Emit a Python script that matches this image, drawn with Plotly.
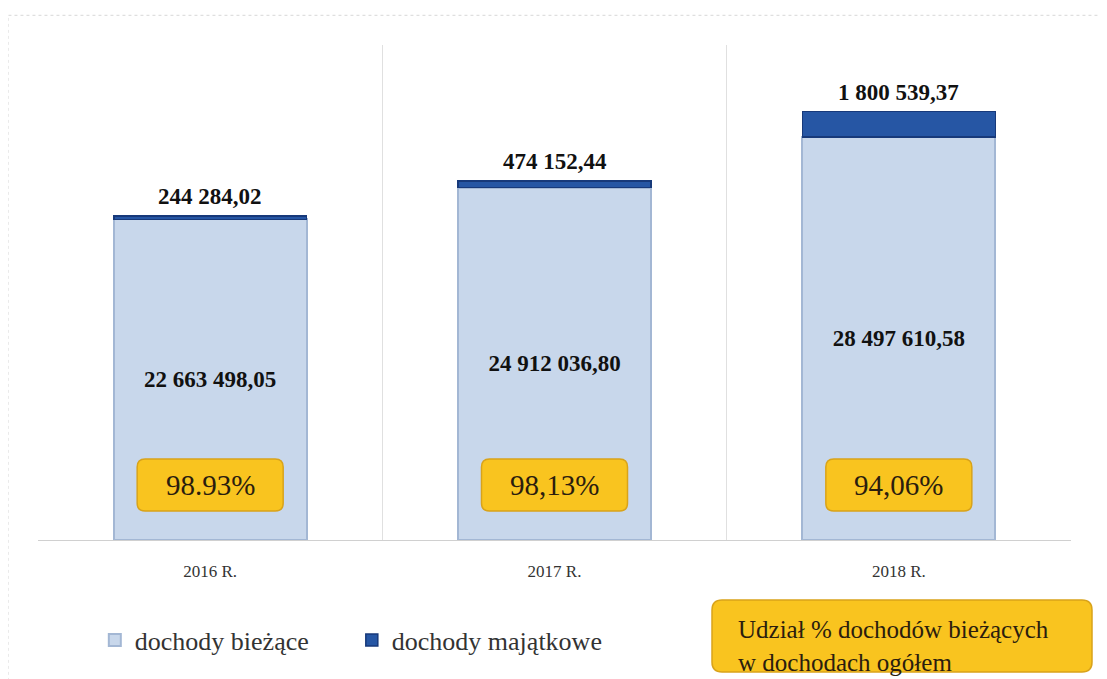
"""Dochody bieżące i majątkowe 2016-2018 - stacked bars with share boxes."""

import plotly.graph_objects as go

years = ["2016 R.", "2017 R.", "2018 R."]
current_income = [22663498.05, 24912036.80, 28497610.58]
capital_income = [244284.02, 474152.44, 1800539.37]
current_label = ["22 663 498,05", "24 912 036,80", "28 497 610,58"]
capital_label = ["244 284,02", "474 152,44", "1 800 539,37"]
share_label = ["98.93%", "98,13%", "94,06%"]

SERIF = "Liberation Serif"
ORANGE = "#f9c41f"
EDGE = "#d9a31a"
TXT = "#2b1d0e"

W, H = 1107, 679
M = dict(l=30, r=44, t=37, b=147)
PW = W - M["l"] - M["r"]
PH = H - M["t"] - M["b"]


def rounded_box(xc, yc, w, h, r=8):
    """Rounded rectangle path in paper coords; sizes in px."""
    hw, hh = w / 2 / PW, h / 2 / PH
    rx, ry = r / PW, r / PH
    x0, x1, y0, y1 = xc - hw, xc + hw, yc - hh, yc + hh
    return (
        f"M{x0 + rx},{y0} L{x1 - rx},{y0} Q{x1},{y0} {x1},{y0 + ry} "
        f"L{x1},{y1 - ry} Q{x1},{y1} {x1 - rx},{y1} L{x0 + rx},{y1} "
        f"Q{x0},{y1} {x0},{y1 - ry} L{x0},{y0 + ry} Q{x0},{y0} {x0 + rx},{y0} Z"
    )


totals = [c + k for c, k in zip(current_income, capital_income)]

fig = go.Figure()
fig.add_trace(go.Bar(
    x=years, y=current_income, name="dochody bieżące",
    marker=dict(color="#c8d7eb", line=dict(color="#a3b7d4", width=2)),
    text=current_label, textposition="inside", insidetextanchor="middle",
    textfont=dict(family=SERIF, size=23, color="#111111"),
    texttemplate="<b>%{text}</b>", constraintext="none",
))
fig.add_trace(go.Bar(
    x=years, y=capital_income, name="dochody majątkowe",
    marker=dict(color="#2656a4", line=dict(color="#17397a", width=1.5)),
))

# labels above stacks
for yr, tot, lab in zip(years, totals, capital_label):
    fig.add_annotation(
        x=yr, y=tot, xref="x", yref="y", yanchor="bottom", yshift=5,
        text=f"<b>{lab}</b>", showarrow=False,
        font=dict(family=SERIF, size=23, color="#111111"),
    )

# share boxes inside each bar
box_y = 55 / PH
for i, s in enumerate(share_label):
    xc = (i + 0.5) / len(years)
    fig.add_shape(type="path", xref="paper", yref="paper",
                  path=rounded_box(xc, box_y, 146, 52),
                  fillcolor=ORANGE, line=dict(color=EDGE, width=1.5))
    fig.add_annotation(
        x=xc, xref="paper", y=box_y, yref="paper",
        xanchor="center", yanchor="middle",
        text=s, showarrow=False,
        font=dict(family=SERIF, size=29, color=TXT),
    )

# explanation box beside the legend
fig.add_shape(type="path", xref="paper", yref="paper",
              path=rounded_box((902 - 38) / PW, (540 - 636) / PH, 380, 72, r=10),
              fillcolor=ORANGE, line=dict(color=EDGE, width=1.5))
fig.add_annotation(
    x=(736 - 38) / PW, xref="paper", y=(540 - 646) / PH, yref="paper",
    xanchor="left", yanchor="middle",
    text="Udział % dochodów bieżących<br>w dochodach ogółem", showarrow=False,
    align="left", font=dict(family=SERIF, size=25, color=TXT),
)

# faint outer frame
fig.add_shape(type="rect", xref="paper", yref="paper",
              x0=-0.029, x1=1.035, y0=-0.3, y1=1.06,
              line=dict(color="#d8d8d8", width=1, dash="dot"))

fig.update_layout(
    width=W, height=H, margin=M,
    barmode="stack", bargap=0.44,
    paper_bgcolor="white", plot_bgcolor="white",
    font=dict(family=SERIF, color="#333333"),
    legend=dict(
        orientation="h", x=0.055, xanchor="left", y=-0.202, yanchor="middle",
        font=dict(family=SERIF, size=26, color="#333333"),
        traceorder="normal", entrywidth=212,
    ),
)
fig.update_xaxes(
    tickson="boundaries", showgrid=True, gridcolor="#e0e0e0", gridwidth=1,
    showline=True, linecolor="#d0d0d0", ticks="",
    tickfont=dict(family=SERIF, size=17, color="#333333"),
    ticklabelstandoff=16,
)
fig.update_yaxes(range=[0, 35000000], visible=False, showgrid=False)

fig.write_html("out.html")
